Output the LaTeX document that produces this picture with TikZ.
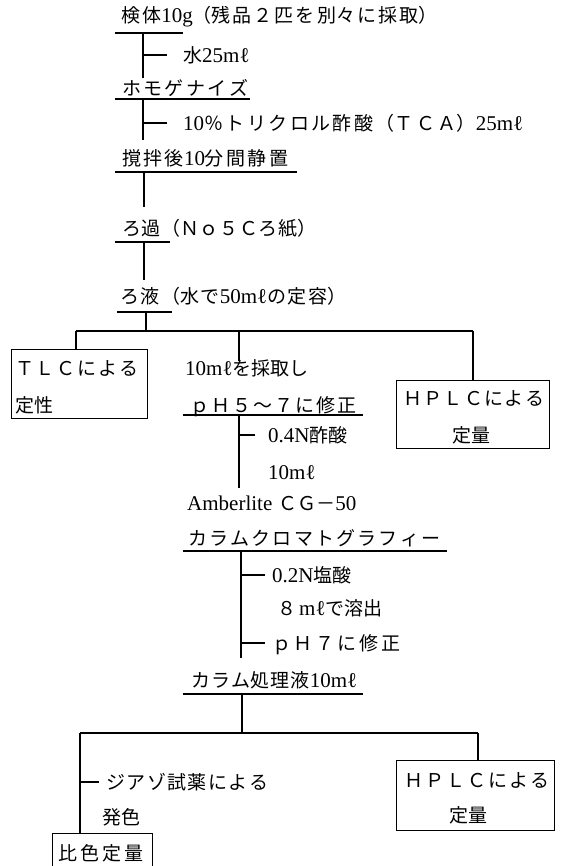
\documentclass[tikz,border=0pt]{standalone}
\usepackage{fontspec}
\setmainfont{Liberation Serif}[Scale=1.105]
\newfontfamily\cjk{Noto Sans CJK JP}
\XeTeXlinebreaklocale "ja"
\XeTeXlinebreakskip=0pt plus 1fil
\newcommand\lat[1]{{\rmfamily #1}}
\newcommand\T[2]{\parbox[b]{#1pt}{\parfillskip=0pt #2}}
\begin{document}
\begin{tikzpicture}[x=1pt,y=-1pt,
  tx/.style={anchor=west, inner sep=0pt, text height=14.4pt, text depth=0pt, font=\fontsize{19}{22}\selectfont\cjk},
  ln/.style={line width=1.1pt},
  bx/.style={draw, line width=1.1pt, inner sep=0pt, anchor=north west}]
\useasboundingbox[fill=white] (0,0) rectangle (562,866);

% ---------- upper chain ----------
\node[tx] (n1) at (121,15) {\T{316}{検体\lat{10g}（残品２匹を別々に採取）}};
\coordinate (u1a) at (115,33); \coordinate (u1b) at (183,33);
\draw[ln] (u1a) -- (u1b);
\coordinate (k1) at (143,33); \coordinate (k1e) at (143,78);
\draw[ln] (k1) -- (k1e);
\coordinate (j2) at (143,55); \coordinate (j2e) at (167,55);
\draw[ln] (j2) -- (j2e);
\node[tx] (n2) at (183,55) {水\lat{25mℓ}};

\node[tx] (n3) at (122,88) {\T{126}{ホモゲナイズ}};
\coordinate (u3a) at (115,99); \coordinate (u3b) at (250,99);
\draw[ln] (u3a) -- (u3b);
\coordinate (k3) at (143,99); \coordinate (k3e) at (143,140);
\draw[ln] (k3) -- (k3e);
\coordinate (j4) at (143,123); \coordinate (j4e) at (167,123);
\draw[ln] (j4) -- (j4e);
\node[tx] (n4) at (183,123) {\T{340}{\lat{10}％トリクロル酢酸（ＴＣＡ）\lat{25mℓ}}};

\node[tx] (n5) at (122,158) {\T{166}{撹拌後\lat{10}分間静置}};
\coordinate (u5a) at (115,172); \coordinate (u5b) at (297,172);
\draw[ln] (u5a) -- (u5b);
\coordinate (k5) at (144,172); \coordinate (k5e) at (144,207);
\draw[ln] (k5) -- (k5e);

\node[tx] (n6) at (122,228) {\T{194}{ろ過（Ｎｏ５Ｃろ紙）}};
\coordinate (u6a) at (115,242); \coordinate (u6b) at (170,242);
\draw[ln] (u6a) -- (u6b);
\coordinate (k6) at (144,242); \coordinate (k6e) at (144,280);
\draw[ln] (k6) -- (k6e);

\node[tx] (n7) at (120,296) {\T{226}{ろ液（水で\lat{50mℓ}の定容）}};
\coordinate (u7a) at (117,312); \coordinate (u7b) at (172,312);
\draw[ln] (u7a) -- (u7b);
\coordinate (k7) at (146,312); \coordinate (k7e) at (146,331);
\draw[ln] (k7) -- (k7e);

% ---------- first split ----------
\coordinate (b1l) at (76,331); \coordinate (b1m) at (239,331); \coordinate (b1r) at (473,331);
\draw[ln] (b1l) -- (b1r);

\node[bx, minimum width=136pt, minimum height=69pt] (tlc) at (11,349) {};
\draw[ln] (b1l) -- (b1l |- tlc.north);
\node[tx] (tlc1) at (15,368) {\T{123}{ＴＬＣによる}};
\node[tx] (tlc2) at (15,405) {定性};

\node[tx] (n9) at (185,368) {\lat{10mℓ}を採取し};
\draw[ln] (b1m) -- (b1m |- n9.north);
\node[tx] (n10) at (190,405) {\T{166}{ｐＨ５～７に修正}};
\coordinate (u10a) at (183,415); \coordinate (u10b) at (363,415);
\draw[ln] (u10a) -- (u10b);
\coordinate (k10) at (239,415); \coordinate (k10e) at (239,488);
\draw[ln] (k10) -- (k10e);
\coordinate (j11) at (239,435); \coordinate (j11e) at (255,435);
\draw[ln] (j11) -- (j11e);
\node[tx] (n11) at (268,435) {\lat{0.4N}酢酸};
\node[tx] (n12) at (268,472) {\lat{10mℓ}};

\node[bx, minimum width=153pt, minimum height=68pt] (hp1) at (396,380) {};
\draw[ln] (b1r) -- (b1r |- hp1.north);
\node[tx] (hp1a) at (403,398) {\T{141}{ＨＰＬＣによる}};
\node[tx, anchor=center] (hp1b) at (471,435) {定量};

% ---------- column ----------
\node[tx] (n13) at (187,503) {\lat{Amberlite}\hspace{6pt}ＣＧ－\lat{50}};
\node[tx] (n14) at (188,538) {\T{252}{カラムクロマトグラフィー}};
\coordinate (u14a) at (183,551); \coordinate (u14b) at (447,551);
\draw[ln] (u14a) -- (u14b);
\coordinate (k14) at (241,551); \coordinate (k14e) at (241,658);
\draw[ln] (k14) -- (k14e);
\coordinate (j15) at (241,575); \coordinate (j15e) at (265,575);
\draw[ln] (j15) -- (j15e);
\node[tx] (n15) at (272,575) {\lat{0.2N}塩酸};
\node[tx] (n16) at (277,608) {８\hspace{3pt}\lat{mℓ}で溶出};
\coordinate (j17) at (241,643); \coordinate (j17e) at (265,643);
\draw[ln] (j17) -- (j17e);
\node[tx] (n17) at (272,643) {\T{128}{ｐＨ７に修正}};

\node[tx] (n18) at (191,680) {\T{166}{カラム処理液\lat{10mℓ}}};
\coordinate (u18a) at (183,694); \coordinate (u18b) at (363,694);
\draw[ln] (u18a) -- (u18b);
\coordinate (k18) at (242,694); \coordinate (k18e) at (242,733);
\draw[ln] (k18) -- (k18e);

% ---------- second split ----------
\coordinate (b2l) at (80,733); \coordinate (b2r) at (478,733);
\draw[ln] (b2l) -- (b2r);
\node[bx, minimum width=100pt, minimum height=45pt] (hs) at (52,833) {};
\draw[ln] (b2l) -- (b2l |- hs.north);
\coordinate (j19) at (80,782); \coordinate (j19e) at (99,782);
\draw[ln] (j19) -- (j19e);
\node[tx] (n19) at (106,782) {\T{162}{ジアゾ試薬による}};
\node[tx] (n20) at (102,817) {発色};
\node[tx] (hs1) at (58,853) {\T{85}{比色定量}};

\node[bx, minimum width=158pt, minimum height=70pt] (hp2) at (396,760) {};
\draw[ln] (b2r) -- (b2r |- hp2.north);
\node[tx] (hp2a) at (404,780) {\T{145}{ＨＰＬＣによる}};
\node[tx, anchor=center] (hp2b) at (468,815) {定量};
\end{tikzpicture}
\end{document}
